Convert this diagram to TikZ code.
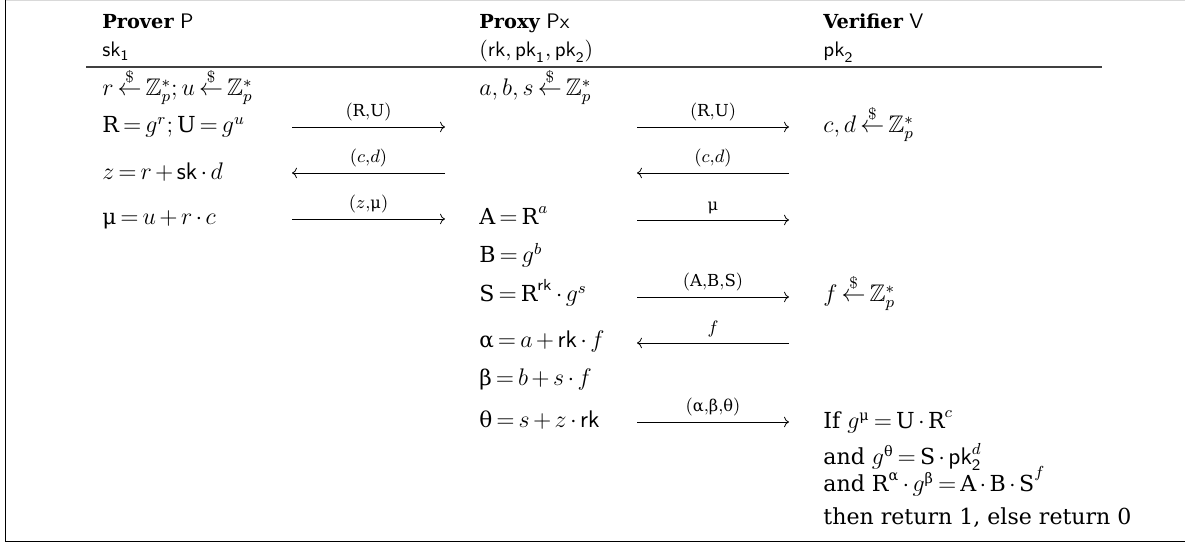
\documentclass[tikz,border=0pt]{standalone}
\usepackage{amsmath,amssymb}
\usepackage{fontspec}
\setmainfont{DejaVu Serif}[Scale=0.92]
\newfontfamily\grkfont{DejaVu Serif}[Scale=0.9]
\usetikzlibrary{arrows.meta}
\thickmuskip=3mu plus 2mu
\medmuskip=2.5mu plus 1mu minus 1mu
\newcommand{\gmu}{\text{\grkfont μ}}
\newcommand{\galpha}{\text{\grkfont α}}
\newcommand{\gbeta}{\text{\grkfont β}}
\newcommand{\gtheta}{\text{\grkfont θ}}
\newcommand{\rnd}{\overset{\$}{\leftarrow}}
\newcommand{\keyname}[2]{\mathsf{#1}_{\mathsf{#2}}}
\tikzset{
  txt/.style={anchor=base west,inner sep=0pt,font=\fontsize{12}{14}\selectfont},
  hdr/.style={anchor=base west,inner sep=0pt,font=\fontsize{10.5}{13}\selectfont},
  msglbl/.style={above=3pt,font=\fontsize{9}{11}\selectfont,inner sep=0pt},
  every edge/.style={draw,->,>=To},
  frame/.style={line width=0.8pt}
}

\begin{document}
\begin{tikzpicture}[x=0.5pt,y=-0.5pt]
  \useasboundingbox (0,0) rectangle (1185,544);
  \draw[black!15] (5.5,0.5) -- (1185,0.5);
  \draw[frame] (5.5,0) -- (5.5,541.5) -- (1185,541.5);

  % headers
  \node[hdr] (hP) at (102,29) {\textbf{Prover} $\mathsf{P}$};
  \node[hdr] (kP) at (102,57) {$\keyname{sk}{1}$};
  \node[hdr] (hX) at (479,29) {\textbf{Proxy} $\mathsf{Px}$};
  \node[hdr] (kX) at (479,57) {$(\mathsf{rk},\keyname{pk}{1},\keyname{pk}{2})$};
  \node[hdr] (hV) at (823,29) {\textbf{Verifier} $\mathsf{V}$};
  \node[hdr] (kV) at (823,57) {$\keyname{pk}{2}$};
  \draw[black!75,line width=0.6pt] (86,67) -- (1102,67);

  % prover
  \node[txt] (p1) at (102,96) {$r \rnd \mathbb{Z}_p^*; u \rnd \mathbb{Z}_p^*$};
  \node[txt] (p2) at (102,133) {$\mathrm{R}=g^r; \mathrm{U}=g^u$};
  \node[txt] (p3) at (102,180) {$z=r+\mathsf{sk}\cdot d$};
  \node[txt] (p4) at (102,225) {$\gmu=u+r\cdot c$};

  % proxy
  \node[txt] (x1) at (479,96) {$a,b,s \rnd \mathbb{Z}_p^*$};
  \node[txt] (x2) at (479,225) {$\mathrm{A}=\mathrm{R}^a$};
  \node[txt] (x3) at (479,263) {$\mathrm{B}=g^b$};
  \node[txt] (x4) at (479,302) {$\mathrm{S}=\mathrm{R}^{\mathsf{rk}}\cdot g^s$};
  \node[txt] (x5) at (479,348) {$\galpha=a+\mathsf{rk}\cdot f$};
  \node[txt] (x6) at (479,386) {$\gbeta=b+s\cdot f$};
  \node[txt] (x7) at (479,428) {$\gtheta=s+z\cdot\mathsf{rk}$};

  % verifier
  \node[txt] (v1) at (823,133) {$c,d \rnd \mathbb{Z}_p^*$};
  \node[txt] (v2) at (823,302) {$f \rnd \mathbb{Z}_p^*$};
  \node[txt] (v3) at (823,429) {If $g^{\gmu}=\mathrm{U}\cdot\mathrm{R}^c$};
  \node[txt] (v4) at (823,465) {and $g^{\gtheta}=\mathrm{S}\cdot\keyname{pk}{2}^d$};
  \node[txt] (v5) at (823,492) {and $\mathrm{R}^{\galpha}\cdot g^{\gbeta}=\mathrm{A}\cdot\mathrm{B}\cdot\mathrm{S}^f$};
  \node[txt] (v6) at (823,525) {then return 1, else return 0};

  % message ends
  \coordinate (la1) at (292,127); \coordinate (lb1) at (445,127);
  \coordinate (la2) at (292,173); \coordinate (lb2) at (445,173);
  \coordinate (la3) at (292,219); \coordinate (lb3) at (445,219);
  \coordinate (ra1) at (637,127); \coordinate (rb1) at (789,127);
  \coordinate (ra2) at (637,173); \coordinate (rb2) at (789,173);
  \coordinate (ra3) at (637,220); \coordinate (rb3) at (789,220);
  \coordinate (ra4) at (637,297); \coordinate (rb4) at (789,297);
  \coordinate (ra5) at (637,343); \coordinate (rb5) at (789,343);
  \coordinate (ra6) at (637,422); \coordinate (rb6) at (789,422);

  \path
    (la1) edge node[msglbl] {$(\mathrm{R},\!\mathrm{U})$} (lb1)
    (lb2) edge node[msglbl] {$(c,\!d)$} (la2)
    (la3) edge node[msglbl] {$(z,\!\gmu)$} (lb3)
    (ra1) edge node[msglbl] {$(\mathrm{R},\!\mathrm{U})$} (rb1)
    (rb2) edge node[msglbl] {$(c,\!d)$} (ra2)
    (ra3) edge node[msglbl] {$\gmu$} (rb3)
    (ra4) edge node[msglbl] {$(\mathrm{A},\!\mathrm{B},\!\mathrm{S})$} (rb4)
    (rb5) edge node[msglbl] {$f$} (ra5)
    (ra6) edge node[msglbl] {$(\galpha,\!\gbeta,\!\gtheta)$} (rb6);
\end{tikzpicture}
\end{document}
